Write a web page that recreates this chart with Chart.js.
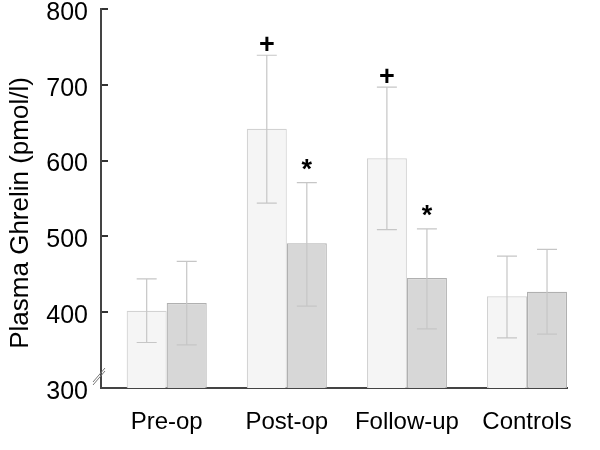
<!DOCTYPE html>
<html>
<head>
<meta charset="utf-8">
<script src="https://cdn.jsdelivr.net/npm/chart.js@4.4.0/dist/chart.umd.min.js"></script>
<style>
  html, body { margin: 0; padding: 0; background: #fff; }
  #wrap { width: 600px; height: 450px; }
</style>
</head>
<body>
<div id="wrap"><canvas id="ghrelinChart" width="600" height="450"></canvas></div>
<script>
const categories = ['Pre-op', 'Post-op', 'Follow-up', 'Controls'];
const lightMeans = [402, 642, 603, 421];
const lightErrHigh = [444, 739, 697, 474];
const lightErrLow = [360, 544, 509, 366];
const darkMeans = [412, 491, 445, 427];
const darkErrHigh = [467, 571, 510, 483];
const darkErrLow = [357, 408, 378, 371];
const lightMarks = ['', '+', '+', ''];
const darkMarks = ['', '*', '*', ''];
const yTicks = [300, 400, 500, 600, 700, 800];

const FONT = '"Liberation Sans", Arial, sans-serif';

// error bars + significance marks drawn on top of the bars
const errorBars = {
    id: 'errorBars',
    afterDatasetsDraw(chart) {
        const ctx = chart.ctx;
        const y = chart.scales.y;
        const sets = [
            { hi: lightErrHigh, lo: lightErrLow, marks: lightMarks },
            { hi: darkErrHigh, lo: darkErrLow, marks: darkMarks }
        ];
        ctx.save();
        sets.forEach((s, d) => {
            const meta = chart.getDatasetMeta(d);
            meta.data.forEach((bar, i) => {
                const yh = y.getPixelForValue(s.hi[i]);
                const yl = y.getPixelForValue(s.lo[i]);
                ctx.strokeStyle = '#c6c6c6';
                ctx.lineWidth = 1.2;
                ctx.beginPath();
                ctx.moveTo(bar.x, yh); ctx.lineTo(bar.x, yl);
                ctx.moveTo(bar.x - 10, yh); ctx.lineTo(bar.x + 10, yh);
                ctx.moveTo(bar.x - 10, yl); ctx.lineTo(bar.x + 10, yl);
                ctx.stroke();
                if (s.marks[i]) {
                    ctx.fillStyle = '#000';
                    ctx.font = 'bold 27px ' + FONT;
                    ctx.textAlign = 'center';
                    ctx.textBaseline = 'middle';
                    const off = s.marks[i] === '*' ? 12 : 10;
                    ctx.fillText(s.marks[i], bar.x, yh - off);
                }
            });
        });
        ctx.restore();
    },
    afterDraw(chart) {
        // axis break mark near the bottom of the y axis
        const ctx = chart.ctx;
        const x0 = chart.chartArea.left;
        const yb = chart.scales.y.getPixelForValue(300) - 14;
        ctx.save();
        ctx.strokeStyle = '#777';
        ctx.lineWidth = 1;
        ctx.beginPath();
        ctx.moveTo(x0 - 8, yb + 8); ctx.lineTo(x0 + 4, yb - 6);
        ctx.moveTo(x0 - 8, yb + 11); ctx.lineTo(x0 + 4, yb - 3);
        ctx.stroke();
        ctx.restore();
    }
};

new Chart(document.getElementById('ghrelinChart').getContext('2d'), {
    type: 'bar',
    data: {
        datasets: [{
            label: 'light',
            data: lightMeans.map((v, i) => ({ x: i, y: v })),
            backgroundColor: '#f5f5f5',
            borderColor: '#d2d2d2',
            borderWidth: 1.2,
            borderSkipped: 'bottom'
        }, {
            label: 'dark',
            data: darkMeans.map((v, i) => ({ x: i, y: v })),
            backgroundColor: '#d7d7d7',
            borderColor: '#b0b0b0',
            borderWidth: 1.2,
            borderSkipped: 'bottom'
        }]
    },
    options: {
        responsive: false,
        animation: false,
        devicePixelRatio: 1,
        categoryPercentage: 2 / 3,
        barPercentage: 1,
        layout: { padding: { top: 9, right: 33, left: 0, bottom: 0 } },
        plugins: {
            legend: { display: false },
            tooltip: { enabled: false }
        },
        scales: {
            x: {
                type: 'linear',
                offset: false,
                z: 1,
                min: -0.547,
                max: 3.333,
                afterFit: s => { s.height = 62; s.paddingLeft = 0; s.paddingRight = 0; },
                afterBuildTicks: s => { s.ticks = categories.map((_, i) => ({ value: i })); },
                grid: { display: false },
                border: { color: '#444', width: 2 },
                ticks: {
                    padding: 12,
                    color: '#000',
                    font: { family: FONT, size: 24 },
                    callback: v => categories[v] || ''
                }
            },
            y: {
                min: 300,
                max: 800,
                afterFit: s => { s.width = 101; s.paddingTop = 0; s.paddingBottom = 0; },
                afterBuildTicks: s => { s.ticks = yTicks.map(v => ({ value: v })); },
                grid: { drawOnChartArea: false, drawTicks: true, tickLength: -7, color: '#333', lineWidth: 2 },
                border: { color: '#444', width: 2 },
                ticks: {
                    padding: 20,
                    labelOffset: 4,
                    color: '#000',
                    font: { family: FONT, size: 25 }
                },
                title: {
                    display: true,
                    text: 'Plasma Ghrelin (pmol/l)    ',
                    color: '#000',
                    font: { family: FONT, size: 26 },
                    padding: { top: 5, bottom: 0 }
                }
            }
        }
    },
    plugins: [errorBars]
});
</script>
</body>
</html>
